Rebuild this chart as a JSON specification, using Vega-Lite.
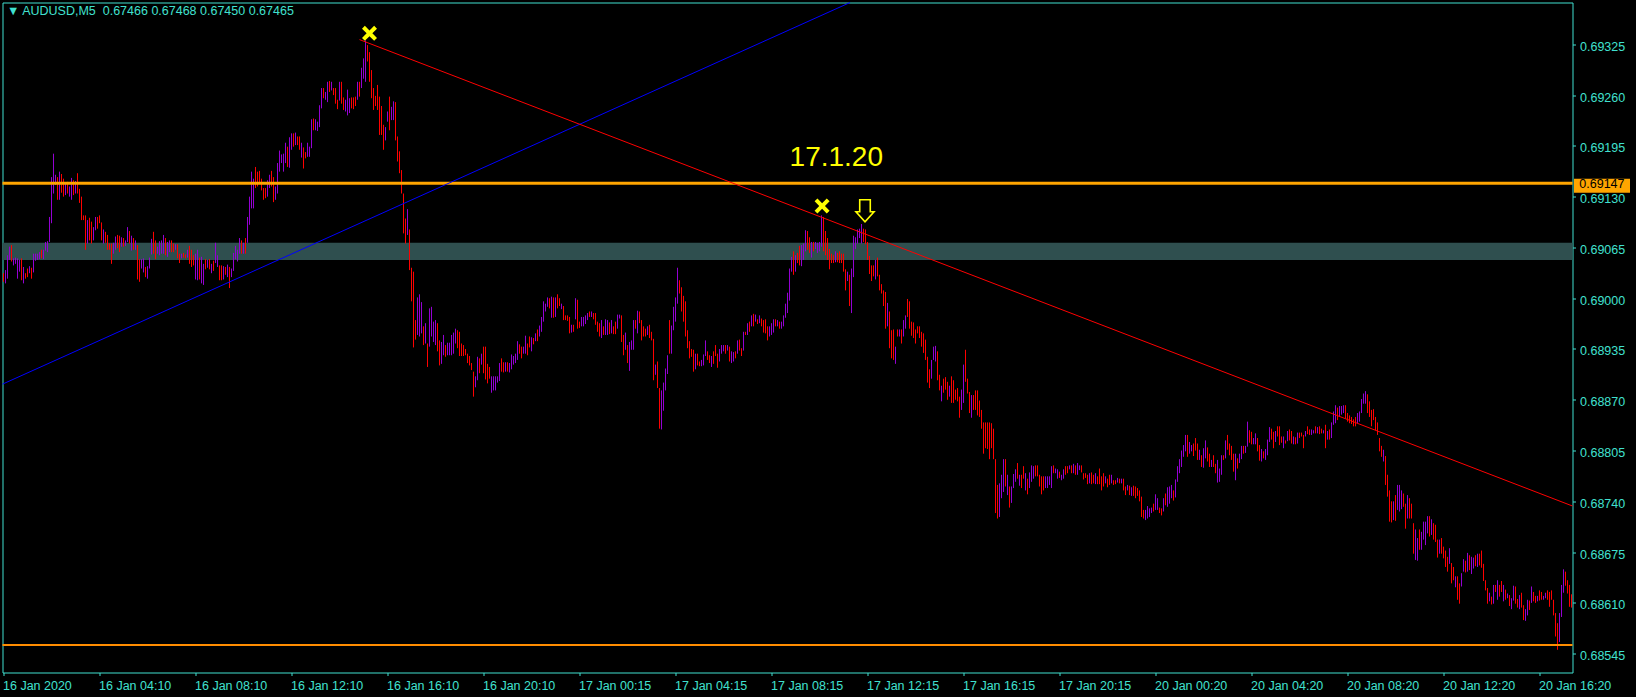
{
"$schema":"https://vega.github.io/schema/vega-lite/v6.json",
"width":1570,"height":670,
"autosize":{"type":"none"},
"padding":{"left":2.5,"top":2.5,"right":63.5,"bottom":24.5},
"background":"#000000",
"config":{"view":{"stroke":"#40E0D0","strokeWidth":1,"fill":"#000000"},"font":"Liberation Sans",
 "axis":{"labelColor":"#40E0D0","tickColor":"#40E0D0","labelFont":"Liberation Sans","labelFontSize":12.5,"domain":false,"grid":false,"tickSize":3,"labelOverlap":false,"labelFlush":false,"labelBound":false}},
"title":{"text":"▼ AUDUSD,M5\u00a0\u00a00.67466 0.67468 0.67450 0.67465","anchor":"start","frame":"group","orient":"top","offset":-14.5,"dy":12.5,"baseline":"alphabetic","dx":4.5,"color":"#40E0D0","font":"Liberation Sans","fontSize":12.5,"fontWeight":"normal"},
"datasets":{
"bars":[
{"i":0,"h":0.69032,"l":0.69021,"d":"dn"},{"i":1,"h":0.69036,"l":0.69019,"d":"up"},{"i":2,"h":0.69055,"l":0.69025,"d":"up"},{"i":3,"h":0.69066,"l":0.69049,"d":"up"},{"i":4,"h":0.69068,"l":0.69047,"d":"dn"},{"i":5,"h":0.69051,"l":0.69042,"d":"up"},{"i":6,"h":0.69052,"l":0.69044,"d":"up"},{"i":7,"h":0.69051,"l":0.69025,"d":"up"},{"i":8,"h":0.69049,"l":0.69034,"d":"up"},{"i":9,"h":0.69051,"l":0.69023,"d":"dn"},
{"i":10,"h":0.69040,"l":0.69019,"d":"up"},{"i":11,"h":0.69032,"l":0.69025,"d":"dn"},{"i":12,"h":0.69038,"l":0.69027,"d":"dn"},{"i":13,"h":0.69041,"l":0.69032,"d":"up"},{"i":14,"h":0.69039,"l":0.69025,"d":"dn"},{"i":15,"h":0.69057,"l":0.69033,"d":"up"},{"i":16,"h":0.69057,"l":0.69048,"d":"up"},{"i":17,"h":0.69057,"l":0.69049,"d":"up"},{"i":18,"h":0.69059,"l":0.69050,"d":"up"},{"i":19,"h":0.69062,"l":0.69051,"d":"dn"},
{"i":20,"h":0.69062,"l":0.69050,"d":"up"},{"i":21,"h":0.69072,"l":0.69061,"d":"up"},{"i":22,"h":0.69073,"l":0.69059,"d":"up"},{"i":23,"h":0.69104,"l":0.69072,"d":"up"},{"i":24,"h":0.69155,"l":0.69096,"d":"up"},{"i":25,"h":0.69185,"l":0.69134,"d":"up"},{"i":26,"h":0.69158,"l":0.69145,"d":"up"},{"i":27,"h":0.69155,"l":0.69126,"d":"dn"},{"i":28,"h":0.69162,"l":0.69126,"d":"up"},{"i":29,"h":0.69159,"l":0.69135,"d":"dn"},
{"i":30,"h":0.69153,"l":0.69130,"d":"dn"},{"i":31,"h":0.69147,"l":0.69132,"d":"up"},{"i":32,"h":0.69149,"l":0.69134,"d":"dn"},{"i":33,"h":0.69143,"l":0.69130,"d":"up"},{"i":34,"h":0.69154,"l":0.69126,"d":"up"},{"i":35,"h":0.69151,"l":0.69132,"d":"dn"},{"i":36,"h":0.69150,"l":0.69134,"d":"up"},{"i":37,"h":0.69160,"l":0.69134,"d":"dn"},{"i":38,"h":0.69140,"l":0.69122,"d":"dn"},{"i":39,"h":0.69130,"l":0.69100,"d":"dn"},
{"i":40,"h":0.69106,"l":0.69100,"d":"dn"},{"i":41,"h":0.69106,"l":0.69062,"d":"dn"},{"i":42,"h":0.69100,"l":0.69070,"d":"up"},{"i":43,"h":0.69103,"l":0.69074,"d":"dn"},{"i":44,"h":0.69098,"l":0.69070,"d":"dn"},{"i":45,"h":0.69091,"l":0.69074,"d":"up"},{"i":46,"h":0.69104,"l":0.69087,"d":"up"},{"i":47,"h":0.69104,"l":0.69089,"d":"dn"},{"i":48,"h":0.69106,"l":0.69096,"d":"dn"},{"i":49,"h":0.69097,"l":0.69074,"d":"dn"},
{"i":50,"h":0.69088,"l":0.69070,"d":"up"},{"i":51,"h":0.69085,"l":0.69071,"d":"dn"},{"i":52,"h":0.69081,"l":0.69062,"d":"dn"},{"i":53,"h":0.69070,"l":0.69062,"d":"dn"},{"i":54,"h":0.69070,"l":0.69044,"d":"dn"},{"i":55,"h":0.69071,"l":0.69057,"d":"up"},{"i":56,"h":0.69079,"l":0.69062,"d":"up"},{"i":57,"h":0.69081,"l":0.69064,"d":"dn"},{"i":58,"h":0.69080,"l":0.69059,"d":"dn"},{"i":59,"h":0.69078,"l":0.69066,"d":"up"},
{"i":60,"h":0.69077,"l":0.69066,"d":"dn"},{"i":61,"h":0.69074,"l":0.69067,"d":"up"},{"i":62,"h":0.69091,"l":0.69072,"d":"up"},{"i":63,"h":0.69086,"l":0.69070,"d":"dn"},{"i":64,"h":0.69080,"l":0.69061,"d":"up"},{"i":65,"h":0.69077,"l":0.69062,"d":"dn"},{"i":66,"h":0.69074,"l":0.69062,"d":"up"},{"i":67,"h":0.69068,"l":0.69024,"d":"dn"},{"i":68,"h":0.69050,"l":0.69021,"d":"dn"},{"i":69,"h":0.69050,"l":0.69038,"d":"up"},
{"i":70,"h":0.69051,"l":0.69033,"d":"up"},{"i":71,"h":0.69040,"l":0.69027,"d":"dn"},{"i":72,"h":0.69041,"l":0.69025,"d":"up"},{"i":73,"h":0.69052,"l":0.69038,"d":"up"},{"i":74,"h":0.69076,"l":0.69056,"d":"up"},{"i":75,"h":0.69085,"l":0.69057,"d":"dn"},{"i":76,"h":0.69074,"l":0.69050,"d":"dn"},{"i":77,"h":0.69066,"l":0.69057,"d":"up"},{"i":78,"h":0.69073,"l":0.69055,"d":"up"},{"i":79,"h":0.69074,"l":0.69057,"d":"up"},
{"i":80,"h":0.69081,"l":0.69057,"d":"up"},{"i":81,"h":0.69077,"l":0.69055,"d":"dn"},{"i":82,"h":0.69072,"l":0.69053,"d":"up"},{"i":83,"h":0.69074,"l":0.69059,"d":"up"},{"i":84,"h":0.69074,"l":0.69059,"d":"dn"},{"i":85,"h":0.69070,"l":0.69059,"d":"dn"},{"i":86,"h":0.69069,"l":0.69062,"d":"up"},{"i":87,"h":0.69069,"l":0.69051,"d":"dn"},{"i":88,"h":0.69057,"l":0.69045,"d":"dn"},{"i":89,"h":0.69057,"l":0.69051,"d":"up"},
{"i":90,"h":0.69058,"l":0.69052,"d":"dn"},{"i":91,"h":0.69056,"l":0.69051,"d":"dn"},{"i":92,"h":0.69062,"l":0.69052,"d":"up"},{"i":93,"h":0.69067,"l":0.69044,"d":"dn"},{"i":94,"h":0.69062,"l":0.69040,"d":"dn"},{"i":95,"h":0.69055,"l":0.69042,"d":"dn"},{"i":96,"h":0.69057,"l":0.69024,"d":"up"},{"i":97,"h":0.69062,"l":0.69023,"d":"up"},{"i":98,"h":0.69052,"l":0.69024,"d":"dn"},{"i":99,"h":0.69053,"l":0.69019,"d":"up"},
{"i":100,"h":0.69044,"l":0.69017,"d":"up"},{"i":101,"h":0.69050,"l":0.69037,"d":"dn"},{"i":102,"h":0.69049,"l":0.69039,"d":"up"},{"i":103,"h":0.69050,"l":0.69037,"d":"dn"},{"i":104,"h":0.69044,"l":0.69032,"d":"up"},{"i":105,"h":0.69048,"l":0.69035,"d":"dn"},{"i":106,"h":0.69071,"l":0.69045,"d":"up"},{"i":107,"h":0.69055,"l":0.69040,"d":"up"},{"i":108,"h":0.69042,"l":0.69023,"d":"dn"},{"i":109,"h":0.69042,"l":0.69023,"d":"dn"},
{"i":110,"h":0.69041,"l":0.69024,"d":"up"},{"i":111,"h":0.69040,"l":0.69030,"d":"dn"},{"i":112,"h":0.69043,"l":0.69027,"d":"up"},{"i":113,"h":0.69040,"l":0.69013,"d":"dn"},{"i":114,"h":0.69038,"l":0.69027,"d":"up"},{"i":115,"h":0.69058,"l":0.69035,"d":"up"},{"i":116,"h":0.69067,"l":0.69050,"d":"up"},{"i":117,"h":0.69062,"l":0.69047,"d":"up"},{"i":118,"h":0.69077,"l":0.69057,"d":"up"},{"i":119,"h":0.69074,"l":0.69057,"d":"dn"},
{"i":120,"h":0.69071,"l":0.69057,"d":"up"},{"i":121,"h":0.69077,"l":0.69057,"d":"dn"},{"i":122,"h":0.69104,"l":0.69071,"d":"up"},{"i":123,"h":0.69130,"l":0.69094,"d":"up"},{"i":124,"h":0.69162,"l":0.69115,"d":"up"},{"i":125,"h":0.69153,"l":0.69115,"d":"up"},{"i":126,"h":0.69168,"l":0.69141,"d":"dn"},{"i":127,"h":0.69162,"l":0.69143,"d":"dn"},{"i":128,"h":0.69163,"l":0.69147,"d":"dn"},{"i":129,"h":0.69153,"l":0.69138,"d":"dn"},
{"i":130,"h":0.69141,"l":0.69126,"d":"dn"},{"i":131,"h":0.69141,"l":0.69128,"d":"dn"},{"i":132,"h":0.69151,"l":0.69130,"d":"up"},{"i":133,"h":0.69158,"l":0.69141,"d":"up"},{"i":134,"h":0.69163,"l":0.69143,"d":"dn"},{"i":135,"h":0.69155,"l":0.69123,"d":"dn"},{"i":136,"h":0.69143,"l":0.69126,"d":"up"},{"i":137,"h":0.69173,"l":0.69134,"d":"up"},{"i":138,"h":0.69189,"l":0.69162,"d":"up"},{"i":139,"h":0.69184,"l":0.69173,"d":"up"},
{"i":140,"h":0.69185,"l":0.69162,"d":"up"},{"i":141,"h":0.69199,"l":0.69173,"d":"up"},{"i":142,"h":0.69194,"l":0.69168,"d":"dn"},{"i":143,"h":0.69206,"l":0.69167,"d":"up"},{"i":144,"h":0.69211,"l":0.69190,"d":"up"},{"i":145,"h":0.69211,"l":0.69194,"d":"dn"},{"i":146,"h":0.69212,"l":0.69196,"d":"up"},{"i":147,"h":0.69207,"l":0.69196,"d":"dn"},{"i":148,"h":0.69207,"l":0.69190,"d":"dn"},{"i":149,"h":0.69199,"l":0.69180,"d":"up"},
{"i":150,"h":0.69193,"l":0.69166,"d":"dn"},{"i":151,"h":0.69187,"l":0.69179,"d":"dn"},{"i":152,"h":0.69199,"l":0.69181,"d":"up"},{"i":153,"h":0.69194,"l":0.69181,"d":"up"},{"i":154,"h":0.69229,"l":0.69192,"d":"up"},{"i":155,"h":0.69230,"l":0.69215,"d":"dn"},{"i":156,"h":0.69229,"l":0.69215,"d":"up"},{"i":157,"h":0.69226,"l":0.69214,"d":"up"},{"i":158,"h":0.69247,"l":0.69219,"d":"up"},{"i":159,"h":0.69269,"l":0.69243,"d":"up"},
{"i":160,"h":0.69269,"l":0.69256,"d":"dn"},{"i":161,"h":0.69264,"l":0.69254,"d":"up"},{"i":162,"h":0.69277,"l":0.69251,"d":"up"},{"i":163,"h":0.69278,"l":0.69264,"d":"dn"},{"i":164,"h":0.69277,"l":0.69266,"d":"up"},{"i":165,"h":0.69269,"l":0.69260,"d":"dn"},{"i":166,"h":0.69269,"l":0.69249,"d":"dn"},{"i":167,"h":0.69254,"l":0.69242,"d":"dn"},{"i":168,"h":0.69277,"l":0.69253,"d":"up"},{"i":169,"h":0.69277,"l":0.69249,"d":"dn"},
{"i":170,"h":0.69257,"l":0.69241,"d":"dn"},{"i":171,"h":0.69254,"l":0.69239,"d":"up"},{"i":172,"h":0.69267,"l":0.69234,"d":"up"},{"i":173,"h":0.69256,"l":0.69237,"d":"up"},{"i":174,"h":0.69257,"l":0.69243,"d":"dn"},{"i":175,"h":0.69257,"l":0.69242,"d":"dn"},{"i":176,"h":0.69258,"l":0.69246,"d":"dn"},{"i":177,"h":0.69277,"l":0.69254,"d":"up"},{"i":178,"h":0.69277,"l":0.69258,"d":"dn"},{"i":179,"h":0.69295,"l":0.69269,"d":"up"},
{"i":180,"h":0.69307,"l":0.69281,"d":"up"},{"i":181,"h":0.69330,"l":0.69277,"d":"up"},{"i":182,"h":0.69324,"l":0.69303,"d":"dn"},{"i":183,"h":0.69315,"l":0.69277,"d":"dn"},{"i":184,"h":0.69292,"l":0.69256,"d":"dn"},{"i":185,"h":0.69269,"l":0.69241,"d":"dn"},{"i":186,"h":0.69259,"l":0.69246,"d":"dn"},{"i":187,"h":0.69273,"l":0.69241,"d":"dn"},{"i":188,"h":0.69258,"l":0.69209,"d":"dn"},{"i":189,"h":0.69246,"l":0.69209,"d":"dn"},
{"i":190,"h":0.69222,"l":0.69190,"d":"dn"},{"i":191,"h":0.69219,"l":0.69202,"d":"up"},{"i":192,"h":0.69239,"l":0.69226,"d":"up"},{"i":193,"h":0.69258,"l":0.69215,"d":"dn"},{"i":194,"h":0.69245,"l":0.69228,"d":"up"},{"i":195,"h":0.69252,"l":0.69228,"d":"up"},{"i":196,"h":0.69251,"l":0.69202,"d":"dn"},{"i":197,"h":0.69207,"l":0.69175,"d":"dn"},{"i":198,"h":0.69188,"l":0.69160,"d":"dn"},{"i":199,"h":0.69164,"l":0.69134,"d":"dn"},
{"i":200,"h":0.69134,"l":0.69083,"d":"dn"},{"i":201,"h":0.69102,"l":0.69070,"d":"dn"},{"i":202,"h":0.69114,"l":0.69081,"d":"up"},{"i":203,"h":0.69088,"l":0.69036,"d":"dn"},{"i":204,"h":0.69039,"l":0.68996,"d":"dn"},{"i":205,"h":0.69034,"l":0.68937,"d":"dn"},{"i":206,"h":0.68972,"l":0.68947,"d":"dn"},{"i":207,"h":0.69001,"l":0.68953,"d":"up"},{"i":208,"h":0.69005,"l":0.68951,"d":"up"},{"i":209,"h":0.68995,"l":0.68955,"d":"up"},
{"i":210,"h":0.68964,"l":0.68940,"d":"dn"},{"i":211,"h":0.68968,"l":0.68942,"d":"up"},{"i":212,"h":0.68942,"l":0.68912,"d":"dn"},{"i":213,"h":0.68987,"l":0.68938,"d":"up"},{"i":214,"h":0.68989,"l":0.68951,"d":"up"},{"i":215,"h":0.68970,"l":0.68944,"d":"up"},{"i":216,"h":0.68972,"l":0.68940,"d":"up"},{"i":217,"h":0.68968,"l":0.68932,"d":"dn"},{"i":218,"h":0.68946,"l":0.68914,"d":"dn"},{"i":219,"h":0.68944,"l":0.68916,"d":"up"},
{"i":220,"h":0.68953,"l":0.68927,"d":"up"},{"i":221,"h":0.68940,"l":0.68925,"d":"dn"},{"i":222,"h":0.68943,"l":0.68927,"d":"up"},{"i":223,"h":0.68943,"l":0.68927,"d":"up"},{"i":224,"h":0.68953,"l":0.68927,"d":"up"},{"i":225,"h":0.68956,"l":0.68929,"d":"up"},{"i":226,"h":0.68961,"l":0.68942,"d":"up"},{"i":227,"h":0.68959,"l":0.68936,"d":"dn"},{"i":228,"h":0.68957,"l":0.68926,"d":"dn"},{"i":229,"h":0.68942,"l":0.68926,"d":"dn"},
{"i":230,"h":0.68940,"l":0.68926,"d":"dn"},{"i":231,"h":0.68935,"l":0.68927,"d":"dn"},{"i":232,"h":0.68929,"l":0.68917,"d":"dn"},{"i":233,"h":0.68926,"l":0.68914,"d":"dn"},{"i":234,"h":0.68917,"l":0.68908,"d":"dn"},{"i":235,"h":0.68906,"l":0.68874,"d":"dn"},{"i":236,"h":0.68900,"l":0.68886,"d":"up"},{"i":237,"h":0.68925,"l":0.68895,"d":"up"},{"i":238,"h":0.68923,"l":0.68904,"d":"dn"},{"i":239,"h":0.68929,"l":0.68915,"d":"up"},
{"i":240,"h":0.68938,"l":0.68904,"d":"dn"},{"i":241,"h":0.68938,"l":0.68896,"d":"dn"},{"i":242,"h":0.68916,"l":0.68891,"d":"dn"},{"i":243,"h":0.68912,"l":0.68897,"d":"dn"},{"i":244,"h":0.68900,"l":0.68879,"d":"up"},{"i":245,"h":0.68900,"l":0.68882,"d":"up"},{"i":246,"h":0.68900,"l":0.68882,"d":"up"},{"i":247,"h":0.68900,"l":0.68892,"d":"up"},{"i":248,"h":0.68917,"l":0.68894,"d":"up"},{"i":249,"h":0.68923,"l":0.68906,"d":"dn"},
{"i":250,"h":0.68918,"l":0.68905,"d":"dn"},{"i":251,"h":0.68918,"l":0.68906,"d":"up"},{"i":252,"h":0.68918,"l":0.68906,"d":"dn"},{"i":253,"h":0.68917,"l":0.68905,"d":"up"},{"i":254,"h":0.68928,"l":0.68909,"d":"up"},{"i":255,"h":0.68926,"l":0.68915,"d":"up"},{"i":256,"h":0.68929,"l":0.68917,"d":"up"},{"i":257,"h":0.68945,"l":0.68921,"d":"up"},{"i":258,"h":0.68941,"l":0.68929,"d":"dn"},{"i":259,"h":0.68938,"l":0.68923,"d":"dn"},
{"i":260,"h":0.68938,"l":0.68929,"d":"up"},{"i":261,"h":0.68952,"l":0.68929,"d":"up"},{"i":262,"h":0.68942,"l":0.68927,"d":"dn"},{"i":263,"h":0.68951,"l":0.68937,"d":"dn"},{"i":264,"h":0.68950,"l":0.68932,"d":"up"},{"i":265,"h":0.68949,"l":0.68941,"d":"dn"},{"i":266,"h":0.68955,"l":0.68945,"d":"up"},{"i":267,"h":0.68960,"l":0.68945,"d":"dn"},{"i":268,"h":0.68965,"l":0.68951,"d":"up"},{"i":269,"h":0.68976,"l":0.68957,"d":"up"},
{"i":270,"h":0.68996,"l":0.68970,"d":"up"},{"i":271,"h":0.68993,"l":0.68983,"d":"up"},{"i":272,"h":0.69001,"l":0.68989,"d":"up"},{"i":273,"h":0.69000,"l":0.68987,"d":"dn"},{"i":274,"h":0.69002,"l":0.68975,"d":"up"},{"i":275,"h":0.69001,"l":0.68975,"d":"dn"},{"i":276,"h":0.69001,"l":0.68976,"d":"up"},{"i":277,"h":0.69005,"l":0.68987,"d":"dn"},{"i":278,"h":0.69000,"l":0.68990,"d":"dn"},{"i":279,"h":0.68993,"l":0.68986,"d":"up"},
{"i":280,"h":0.68990,"l":0.68972,"d":"dn"},{"i":281,"h":0.68978,"l":0.68972,"d":"dn"},{"i":282,"h":0.68978,"l":0.68971,"d":"dn"},{"i":283,"h":0.68976,"l":0.68955,"d":"dn"},{"i":284,"h":0.68966,"l":0.68956,"d":"up"},{"i":285,"h":0.68966,"l":0.68957,"d":"dn"},{"i":286,"h":0.69000,"l":0.68973,"d":"up"},{"i":287,"h":0.68998,"l":0.68961,"d":"dn"},{"i":288,"h":0.68970,"l":0.68962,"d":"dn"},{"i":289,"h":0.68976,"l":0.68964,"d":"up"},
{"i":290,"h":0.68976,"l":0.68964,"d":"up"},{"i":291,"h":0.68978,"l":0.68967,"d":"up"},{"i":292,"h":0.68981,"l":0.68972,"d":"up"},{"i":293,"h":0.68983,"l":0.68976,"d":"dn"},{"i":294,"h":0.68983,"l":0.68976,"d":"up"},{"i":295,"h":0.68981,"l":0.68973,"d":"dn"},{"i":296,"h":0.68981,"l":0.68966,"d":"dn"},{"i":297,"h":0.68970,"l":0.68957,"d":"dn"},{"i":298,"h":0.68968,"l":0.68951,"d":"dn"},{"i":299,"h":0.68972,"l":0.68949,"d":"up"},
{"i":300,"h":0.68964,"l":0.68953,"d":"dn"},{"i":301,"h":0.68973,"l":0.68953,"d":"up"},{"i":302,"h":0.68972,"l":0.68953,"d":"up"},{"i":303,"h":0.68969,"l":0.68954,"d":"dn"},{"i":304,"h":0.68972,"l":0.68955,"d":"up"},{"i":305,"h":0.68964,"l":0.68954,"d":"dn"},{"i":306,"h":0.68970,"l":0.68954,"d":"dn"},{"i":307,"h":0.68979,"l":0.68961,"d":"up"},{"i":308,"h":0.68979,"l":0.68974,"d":"up"},{"i":309,"h":0.68978,"l":0.68944,"d":"dn"},
{"i":310,"h":0.68953,"l":0.68927,"d":"dn"},{"i":311,"h":0.68956,"l":0.68934,"d":"up"},{"i":312,"h":0.68940,"l":0.68917,"d":"dn"},{"i":313,"h":0.68944,"l":0.68907,"d":"up"},{"i":314,"h":0.68946,"l":0.68934,"d":"up"},{"i":315,"h":0.68972,"l":0.68934,"d":"up"},{"i":316,"h":0.68972,"l":0.68961,"d":"dn"},{"i":317,"h":0.68984,"l":0.68955,"d":"up"},{"i":318,"h":0.68983,"l":0.68968,"d":"dn"},{"i":319,"h":0.68972,"l":0.68946,"d":"dn"},
{"i":320,"h":0.68964,"l":0.68951,"d":"dn"},{"i":321,"h":0.68961,"l":0.68951,"d":"dn"},{"i":322,"h":0.68964,"l":0.68953,"d":"up"},{"i":323,"h":0.68966,"l":0.68949,"d":"dn"},{"i":324,"h":0.68957,"l":0.68946,"d":"dn"},{"i":325,"h":0.68948,"l":0.68895,"d":"dn"},{"i":326,"h":0.68915,"l":0.68902,"d":"up"},{"i":327,"h":0.68919,"l":0.68885,"d":"dn"},{"i":328,"h":0.68885,"l":0.68833,"d":"dn"},{"i":329,"h":0.68882,"l":0.68832,"d":"up"},
{"i":330,"h":0.68892,"l":0.68856,"d":"up"},{"i":331,"h":0.68910,"l":0.68882,"d":"up"},{"i":332,"h":0.68927,"l":0.68903,"d":"up"},{"i":333,"h":0.68972,"l":0.68929,"d":"dn"},{"i":334,"h":0.68965,"l":0.68929,"d":"up"},{"i":335,"h":0.68989,"l":0.68959,"d":"up"},{"i":336,"h":0.69001,"l":0.68970,"d":"up"},{"i":337,"h":0.69039,"l":0.68993,"d":"up"},{"i":338,"h":0.69023,"l":0.69006,"d":"dn"},{"i":339,"h":0.69014,"l":0.68983,"d":"dn"},
{"i":340,"h":0.69003,"l":0.68970,"d":"dn"},{"i":341,"h":0.68996,"l":0.68951,"d":"dn"},{"i":342,"h":0.68959,"l":0.68936,"d":"dn"},{"i":343,"h":0.68945,"l":0.68923,"d":"dn"},{"i":344,"h":0.68935,"l":0.68925,"d":"dn"},{"i":345,"h":0.68934,"l":0.68906,"d":"dn"},{"i":346,"h":0.68929,"l":0.68909,"d":"up"},{"i":347,"h":0.68929,"l":0.68914,"d":"dn"},{"i":348,"h":0.68919,"l":0.68913,"d":"dn"},{"i":349,"h":0.68921,"l":0.68913,"d":"up"},
{"i":350,"h":0.68928,"l":0.68914,"d":"up"},{"i":351,"h":0.68946,"l":0.68926,"d":"up"},{"i":352,"h":0.68932,"l":0.68921,"d":"dn"},{"i":353,"h":0.68927,"l":0.68917,"d":"dn"},{"i":354,"h":0.68926,"l":0.68912,"d":"up"},{"i":355,"h":0.68932,"l":0.68916,"d":"dn"},{"i":356,"h":0.68940,"l":0.68926,"d":"dn"},{"i":357,"h":0.68929,"l":0.68911,"d":"dn"},{"i":358,"h":0.68935,"l":0.68919,"d":"up"},{"i":359,"h":0.68940,"l":0.68929,"d":"up"},
{"i":360,"h":0.68940,"l":0.68932,"d":"up"},{"i":361,"h":0.68940,"l":0.68929,"d":"dn"},{"i":362,"h":0.68940,"l":0.68933,"d":"up"},{"i":363,"h":0.68938,"l":0.68919,"d":"dn"},{"i":364,"h":0.68932,"l":0.68917,"d":"up"},{"i":365,"h":0.68931,"l":0.68919,"d":"up"},{"i":366,"h":0.68932,"l":0.68923,"d":"dn"},{"i":367,"h":0.68946,"l":0.68929,"d":"up"},{"i":368,"h":0.68947,"l":0.68933,"d":"dn"},{"i":369,"h":0.68936,"l":0.68926,"d":"dn"},
{"i":370,"h":0.68957,"l":0.68933,"d":"up"},{"i":371,"h":0.68957,"l":0.68953,"d":"dn"},{"i":372,"h":0.68968,"l":0.68953,"d":"up"},{"i":373,"h":0.68970,"l":0.68957,"d":"dn"},{"i":374,"h":0.68978,"l":0.68964,"d":"up"},{"i":375,"h":0.68980,"l":0.68964,"d":"dn"},{"i":376,"h":0.68979,"l":0.68970,"d":"up"},{"i":377,"h":0.68973,"l":0.68967,"d":"dn"},{"i":378,"h":0.68978,"l":0.68968,"d":"up"},{"i":379,"h":0.68974,"l":0.68964,"d":"dn"},
{"i":380,"h":0.68972,"l":0.68956,"d":"dn"},{"i":381,"h":0.68973,"l":0.68955,"d":"dn"},{"i":382,"h":0.68964,"l":0.68946,"d":"dn"},{"i":383,"h":0.68964,"l":0.68951,"d":"up"},{"i":384,"h":0.68968,"l":0.68953,"d":"up"},{"i":385,"h":0.68973,"l":0.68956,"d":"up"},{"i":386,"h":0.68973,"l":0.68964,"d":"dn"},{"i":387,"h":0.68972,"l":0.68964,"d":"up"},{"i":388,"h":0.68970,"l":0.68961,"d":"dn"},{"i":389,"h":0.68970,"l":0.68961,"d":"up"},
{"i":390,"h":0.68978,"l":0.68964,"d":"up"},{"i":391,"h":0.68993,"l":0.68975,"d":"up"},{"i":392,"h":0.69007,"l":0.68981,"d":"up"},{"i":393,"h":0.69038,"l":0.68997,"d":"up"},{"i":394,"h":0.69053,"l":0.69034,"d":"up"},{"i":395,"h":0.69060,"l":0.69030,"d":"dn"},{"i":396,"h":0.69055,"l":0.69034,"d":"up"},{"i":397,"h":0.69058,"l":0.69045,"d":"dn"},{"i":398,"h":0.69067,"l":0.69042,"d":"dn"},{"i":399,"h":0.69068,"l":0.69041,"d":"up"},
{"i":400,"h":0.69070,"l":0.69049,"d":"up"},{"i":401,"h":0.69087,"l":0.69060,"d":"up"},{"i":402,"h":0.69086,"l":0.69062,"d":"dn"},{"i":403,"h":0.69078,"l":0.69058,"d":"dn"},{"i":404,"h":0.69072,"l":0.69052,"d":"up"},{"i":405,"h":0.69072,"l":0.69060,"d":"dn"},{"i":406,"h":0.69072,"l":0.69063,"d":"up"},{"i":407,"h":0.69071,"l":0.69058,"d":"up"},{"i":408,"h":0.69072,"l":0.69060,"d":"up"},{"i":409,"h":0.69106,"l":0.69066,"d":"up"},
{"i":410,"h":0.69104,"l":0.69060,"d":"dn"},{"i":411,"h":0.69086,"l":0.69055,"d":"dn"},{"i":412,"h":0.69077,"l":0.69049,"d":"dn"},{"i":413,"h":0.69063,"l":0.69037,"d":"dn"},{"i":414,"h":0.69057,"l":0.69045,"d":"dn"},{"i":415,"h":0.69055,"l":0.69045,"d":"dn"},{"i":416,"h":0.69060,"l":0.69046,"d":"up"},{"i":417,"h":0.69058,"l":0.69046,"d":"dn"},{"i":418,"h":0.69060,"l":0.69045,"d":"dn"},{"i":419,"h":0.69057,"l":0.69045,"d":"dn"},
{"i":420,"h":0.69057,"l":0.69034,"d":"dn"},{"i":421,"h":0.69037,"l":0.69010,"d":"dn"},{"i":422,"h":0.69034,"l":0.69022,"d":"up"},{"i":423,"h":0.69030,"l":0.68990,"d":"dn"},{"i":424,"h":0.69038,"l":0.68981,"d":"up"},{"i":425,"h":0.69080,"l":0.69027,"d":"up"},{"i":426,"h":0.69078,"l":0.69063,"d":"up"},{"i":427,"h":0.69088,"l":0.69070,"d":"up"},{"i":428,"h":0.69089,"l":0.69077,"d":"up"},{"i":429,"h":0.69095,"l":0.69070,"d":"up"},
{"i":430,"h":0.69089,"l":0.69072,"d":"dn"},{"i":431,"h":0.69088,"l":0.69069,"d":"dn"},{"i":432,"h":0.69072,"l":0.69049,"d":"dn"},{"i":433,"h":0.69054,"l":0.69031,"d":"dn"},{"i":434,"h":0.69042,"l":0.69022,"d":"dn"},{"i":435,"h":0.69042,"l":0.69028,"d":"dn"},{"i":436,"h":0.69049,"l":0.69024,"d":"up"},{"i":437,"h":0.69052,"l":0.69028,"d":"dn"},{"i":438,"h":0.69030,"l":0.69010,"d":"dn"},{"i":439,"h":0.69018,"l":0.69006,"d":"dn"},
{"i":440,"h":0.69010,"l":0.68990,"d":"dn"},{"i":441,"h":0.69008,"l":0.68961,"d":"dn"},{"i":442,"h":0.68994,"l":0.68964,"d":"up"},{"i":443,"h":0.68983,"l":0.68936,"d":"dn"},{"i":444,"h":0.68959,"l":0.68923,"d":"dn"},{"i":445,"h":0.68960,"l":0.68921,"d":"dn"},{"i":446,"h":0.68938,"l":0.68916,"d":"up"},{"i":447,"h":0.68960,"l":0.68951,"d":"dn"},{"i":448,"h":0.68960,"l":0.68951,"d":"up"},{"i":449,"h":0.68960,"l":0.68942,"d":"dn"},
{"i":450,"h":0.68972,"l":0.68951,"d":"up"},{"i":451,"h":0.68978,"l":0.68961,"d":"up"},{"i":452,"h":0.68999,"l":0.68976,"d":"dn"},{"i":453,"h":0.68996,"l":0.68961,"d":"dn"},{"i":454,"h":0.68970,"l":0.68952,"d":"dn"},{"i":455,"h":0.68969,"l":0.68949,"d":"dn"},{"i":456,"h":0.68960,"l":0.68942,"d":"dn"},{"i":457,"h":0.68964,"l":0.68955,"d":"dn"},{"i":458,"h":0.68964,"l":0.68949,"d":"dn"},{"i":459,"h":0.68957,"l":0.68938,"d":"dn"},
{"i":460,"h":0.68955,"l":0.68930,"d":"dn"},{"i":461,"h":0.68947,"l":0.68921,"d":"dn"},{"i":462,"h":0.68925,"l":0.68892,"d":"dn"},{"i":463,"h":0.68909,"l":0.68885,"d":"dn"},{"i":464,"h":0.68921,"l":0.68897,"d":"up"},{"i":465,"h":0.68938,"l":0.68921,"d":"up"},{"i":466,"h":0.68939,"l":0.68919,"d":"up"},{"i":467,"h":0.68932,"l":0.68895,"d":"dn"},{"i":468,"h":0.68902,"l":0.68882,"d":"dn"},{"i":469,"h":0.68888,"l":0.68868,"d":"up"},
{"i":470,"h":0.68897,"l":0.68879,"d":"dn"},{"i":471,"h":0.68899,"l":0.68883,"d":"dn"},{"i":472,"h":0.68893,"l":0.68870,"d":"dn"},{"i":473,"h":0.68888,"l":0.68874,"d":"up"},{"i":474,"h":0.68900,"l":0.68866,"d":"dn"},{"i":475,"h":0.68895,"l":0.68866,"d":"dn"},{"i":476,"h":0.68883,"l":0.68870,"d":"dn"},{"i":477,"h":0.68885,"l":0.68868,"d":"dn"},{"i":478,"h":0.68874,"l":0.68847,"d":"dn"},{"i":479,"h":0.68883,"l":0.68857,"d":"up"},
{"i":480,"h":0.68915,"l":0.68866,"d":"up"},{"i":481,"h":0.68934,"l":0.68893,"d":"dn"},{"i":482,"h":0.68897,"l":0.68878,"d":"dn"},{"i":483,"h":0.68880,"l":0.68853,"d":"dn"},{"i":484,"h":0.68876,"l":0.68847,"d":"up"},{"i":485,"h":0.68876,"l":0.68857,"d":"dn"},{"i":486,"h":0.68882,"l":0.68857,"d":"dn"},{"i":487,"h":0.68882,"l":0.68850,"d":"dn"},{"i":488,"h":0.68869,"l":0.68848,"d":"dn"},{"i":489,"h":0.68857,"l":0.68833,"d":"dn"},
{"i":490,"h":0.68841,"l":0.68801,"d":"dn"},{"i":491,"h":0.68841,"l":0.68808,"d":"dn"},{"i":492,"h":0.68841,"l":0.68807,"d":"dn"},{"i":493,"h":0.68841,"l":0.68794,"d":"dn"},{"i":494,"h":0.68840,"l":0.68808,"d":"dn"},{"i":495,"h":0.68833,"l":0.68794,"d":"dn"},{"i":496,"h":0.68794,"l":0.68725,"d":"dn"},{"i":497,"h":0.68761,"l":0.68718,"d":"dn"},{"i":498,"h":0.68763,"l":0.68720,"d":"up"},{"i":499,"h":0.68774,"l":0.68744,"d":"up"},
{"i":500,"h":0.68794,"l":0.68752,"d":"up"},{"i":501,"h":0.68794,"l":0.68759,"d":"dn"},{"i":502,"h":0.68774,"l":0.68748,"d":"up"},{"i":503,"h":0.68759,"l":0.68732,"d":"dn"},{"i":504,"h":0.68759,"l":0.68738,"d":"up"},{"i":505,"h":0.68775,"l":0.68757,"d":"up"},{"i":506,"h":0.68781,"l":0.68765,"d":"up"},{"i":507,"h":0.68789,"l":0.68769,"d":"dn"},{"i":508,"h":0.68774,"l":0.68760,"d":"up"},{"i":509,"h":0.68774,"l":0.68757,"d":"dn"},
{"i":510,"h":0.68785,"l":0.68769,"d":"dn"},{"i":511,"h":0.68776,"l":0.68754,"d":"up"},{"i":512,"h":0.68769,"l":0.68749,"d":"dn"},{"i":513,"h":0.68777,"l":0.68757,"d":"up"},{"i":514,"h":0.68786,"l":0.68765,"d":"up"},{"i":515,"h":0.68785,"l":0.68769,"d":"up"},{"i":516,"h":0.68786,"l":0.68772,"d":"dn"},{"i":517,"h":0.68786,"l":0.68772,"d":"dn"},{"i":518,"h":0.68774,"l":0.68759,"d":"dn"},{"i":519,"h":0.68772,"l":0.68749,"d":"dn"},
{"i":520,"h":0.68772,"l":0.68754,"d":"dn"},{"i":521,"h":0.68772,"l":0.68757,"d":"up"},{"i":522,"h":0.68772,"l":0.68757,"d":"up"},{"i":523,"h":0.68772,"l":0.68761,"d":"up"},{"i":524,"h":0.68785,"l":0.68757,"d":"up"},{"i":525,"h":0.68786,"l":0.68776,"d":"dn"},{"i":526,"h":0.68782,"l":0.68776,"d":"up"},{"i":527,"h":0.68781,"l":0.68769,"d":"up"},{"i":528,"h":0.68778,"l":0.68770,"d":"dn"},{"i":529,"h":0.68774,"l":0.68767,"d":"up"},
{"i":530,"h":0.68781,"l":0.68769,"d":"up"},{"i":531,"h":0.68785,"l":0.68774,"d":"dn"},{"i":532,"h":0.68785,"l":0.68776,"d":"dn"},{"i":533,"h":0.68786,"l":0.68781,"d":"up"},{"i":534,"h":0.68786,"l":0.68776,"d":"dn"},{"i":535,"h":0.68788,"l":0.68776,"d":"up"},{"i":536,"h":0.68786,"l":0.68774,"d":"dn"},{"i":537,"h":0.68789,"l":0.68774,"d":"up"},{"i":538,"h":0.68786,"l":0.68780,"d":"up"},{"i":539,"h":0.68786,"l":0.68777,"d":"dn"},
{"i":540,"h":0.68776,"l":0.68768,"d":"dn"},{"i":541,"h":0.68776,"l":0.68770,"d":"dn"},{"i":542,"h":0.68774,"l":0.68762,"d":"dn"},{"i":543,"h":0.68776,"l":0.68763,"d":"up"},{"i":544,"h":0.68777,"l":0.68762,"d":"dn"},{"i":545,"h":0.68774,"l":0.68763,"d":"dn"},{"i":546,"h":0.68776,"l":0.68762,"d":"up"},{"i":547,"h":0.68772,"l":0.68762,"d":"dn"},{"i":548,"h":0.68782,"l":0.68762,"d":"dn"},{"i":549,"h":0.68772,"l":0.68754,"d":"dn"},
{"i":550,"h":0.68776,"l":0.68759,"d":"dn"},{"i":551,"h":0.68772,"l":0.68763,"d":"up"},{"i":552,"h":0.68769,"l":0.68758,"d":"dn"},{"i":553,"h":0.68774,"l":0.68761,"d":"dn"},{"i":554,"h":0.68774,"l":0.68763,"d":"up"},{"i":555,"h":0.68767,"l":0.68761,"d":"dn"},{"i":556,"h":0.68767,"l":0.68762,"d":"dn"},{"i":557,"h":0.68770,"l":0.68764,"d":"up"},{"i":558,"h":0.68769,"l":0.68763,"d":"dn"},{"i":559,"h":0.68769,"l":0.68763,"d":"up"},
{"i":560,"h":0.68769,"l":0.68754,"d":"dn"},{"i":561,"h":0.68759,"l":0.68748,"d":"dn"},{"i":562,"h":0.68761,"l":0.68754,"d":"up"},{"i":563,"h":0.68760,"l":0.68748,"d":"dn"},{"i":564,"h":0.68758,"l":0.68747,"d":"up"},{"i":565,"h":0.68760,"l":0.68747,"d":"dn"},{"i":566,"h":0.68759,"l":0.68744,"d":"dn"},{"i":567,"h":0.68757,"l":0.68747,"d":"dn"},{"i":568,"h":0.68754,"l":0.68740,"d":"dn"},{"i":569,"h":0.68746,"l":0.68720,"d":"dn"},
{"i":570,"h":0.68729,"l":0.68718,"d":"dn"},{"i":571,"h":0.68729,"l":0.68716,"d":"up"},{"i":572,"h":0.68734,"l":0.68718,"d":"up"},{"i":573,"h":0.68731,"l":0.68720,"d":"up"},{"i":574,"h":0.68732,"l":0.68725,"d":"up"},{"i":575,"h":0.68737,"l":0.68727,"d":"dn"},{"i":576,"h":0.68749,"l":0.68729,"d":"up"},{"i":577,"h":0.68744,"l":0.68729,"d":"up"},{"i":578,"h":0.68732,"l":0.68725,"d":"dn"},{"i":579,"h":0.68731,"l":0.68722,"d":"dn"},
{"i":580,"h":0.68744,"l":0.68727,"d":"up"},{"i":581,"h":0.68750,"l":0.68735,"d":"dn"},{"i":582,"h":0.68758,"l":0.68733,"d":"up"},{"i":583,"h":0.68759,"l":0.68737,"d":"up"},{"i":584,"h":0.68761,"l":0.68744,"d":"up"},{"i":585,"h":0.68754,"l":0.68741,"d":"dn"},{"i":586,"h":0.68768,"l":0.68745,"d":"up"},{"i":587,"h":0.68785,"l":0.68765,"d":"up"},{"i":588,"h":0.68794,"l":0.68776,"d":"up"},{"i":589,"h":0.68805,"l":0.68784,"d":"up"},
{"i":590,"h":0.68812,"l":0.68797,"d":"up"},{"i":591,"h":0.68825,"l":0.68804,"d":"up"},{"i":592,"h":0.68825,"l":0.68797,"d":"dn"},{"i":593,"h":0.68816,"l":0.68801,"d":"up"},{"i":594,"h":0.68812,"l":0.68804,"d":"up"},{"i":595,"h":0.68814,"l":0.68798,"d":"dn"},{"i":596,"h":0.68821,"l":0.68805,"d":"dn"},{"i":597,"h":0.68814,"l":0.68793,"d":"dn"},{"i":598,"h":0.68806,"l":0.68793,"d":"up"},{"i":599,"h":0.68799,"l":0.68784,"d":"dn"},
{"i":600,"h":0.68808,"l":0.68783,"d":"up"},{"i":601,"h":0.68818,"l":0.68795,"d":"up"},{"i":602,"h":0.68809,"l":0.68791,"d":"dn"},{"i":603,"h":0.68801,"l":0.68784,"d":"dn"},{"i":604,"h":0.68793,"l":0.68784,"d":"up"},{"i":605,"h":0.68799,"l":0.68784,"d":"dn"},{"i":606,"h":0.68788,"l":0.68776,"d":"dn"},{"i":607,"h":0.68793,"l":0.68764,"d":"up"},{"i":608,"h":0.68782,"l":0.68765,"d":"up"},{"i":609,"h":0.68799,"l":0.68774,"d":"up"},
{"i":610,"h":0.68799,"l":0.68793,"d":"dn"},{"i":611,"h":0.68818,"l":0.68795,"d":"up"},{"i":612,"h":0.68825,"l":0.68806,"d":"dn"},{"i":613,"h":0.68814,"l":0.68799,"d":"dn"},{"i":614,"h":0.68811,"l":0.68793,"d":"dn"},{"i":615,"h":0.68801,"l":0.68778,"d":"dn"},{"i":616,"h":0.68801,"l":0.68767,"d":"up"},{"i":617,"h":0.68795,"l":0.68782,"d":"dn"},{"i":618,"h":0.68801,"l":0.68789,"d":"up"},{"i":619,"h":0.68811,"l":0.68794,"d":"up"},
{"i":620,"h":0.68811,"l":0.68801,"d":"dn"},{"i":621,"h":0.68811,"l":0.68802,"d":"up"},{"i":622,"h":0.68842,"l":0.68810,"d":"up"},{"i":623,"h":0.68831,"l":0.68815,"d":"dn"},{"i":624,"h":0.68829,"l":0.68813,"d":"dn"},{"i":625,"h":0.68821,"l":0.68813,"d":"up"},{"i":626,"h":0.68827,"l":0.68813,"d":"up"},{"i":627,"h":0.68821,"l":0.68804,"d":"dn"},{"i":628,"h":0.68812,"l":0.68792,"d":"dn"},{"i":629,"h":0.68807,"l":0.68791,"d":"up"},
{"i":630,"h":0.68804,"l":0.68795,"d":"dn"},{"i":631,"h":0.68807,"l":0.68793,"d":"up"},{"i":632,"h":0.68819,"l":0.68799,"d":"up"},{"i":633,"h":0.68835,"l":0.68816,"d":"up"},{"i":634,"h":0.68833,"l":0.68819,"d":"dn"},{"i":635,"h":0.68829,"l":0.68808,"d":"dn"},{"i":636,"h":0.68830,"l":0.68816,"d":"up"},{"i":637,"h":0.68836,"l":0.68823,"d":"dn"},{"i":638,"h":0.68836,"l":0.68812,"d":"dn"},{"i":639,"h":0.68823,"l":0.68815,"d":"dn"},
{"i":640,"h":0.68823,"l":0.68808,"d":"up"},{"i":641,"h":0.68818,"l":0.68814,"d":"dn"},{"i":642,"h":0.68830,"l":0.68817,"d":"up"},{"i":643,"h":0.68832,"l":0.68818,"d":"dn"},{"i":644,"h":0.68830,"l":0.68814,"d":"dn"},{"i":645,"h":0.68823,"l":0.68813,"d":"up"},{"i":646,"h":0.68822,"l":0.68813,"d":"dn"},{"i":647,"h":0.68828,"l":0.68814,"d":"up"},{"i":648,"h":0.68828,"l":0.68821,"d":"dn"},{"i":649,"h":0.68828,"l":0.68823,"d":"dn"},
{"i":650,"h":0.68825,"l":0.68808,"d":"dn"},{"i":651,"h":0.68830,"l":0.68823,"d":"up"},{"i":652,"h":0.68836,"l":0.68826,"d":"dn"},{"i":653,"h":0.68832,"l":0.68825,"d":"dn"},{"i":654,"h":0.68832,"l":0.68825,"d":"up"},{"i":655,"h":0.68831,"l":0.68827,"d":"up"},{"i":656,"h":0.68836,"l":0.68827,"d":"dn"},{"i":657,"h":0.68835,"l":0.68827,"d":"up"},{"i":658,"h":0.68836,"l":0.68826,"d":"dn"},{"i":659,"h":0.68833,"l":0.68827,"d":"dn"},
{"i":660,"h":0.68831,"l":0.68827,"d":"up"},{"i":661,"h":0.68838,"l":0.68808,"d":"dn"},{"i":662,"h":0.68830,"l":0.68819,"d":"up"},{"i":663,"h":0.68832,"l":0.68819,"d":"dn"},{"i":664,"h":0.68841,"l":0.68821,"d":"up"},{"i":665,"h":0.68855,"l":0.68838,"d":"up"},{"i":666,"h":0.68863,"l":0.68840,"d":"up"},{"i":667,"h":0.68860,"l":0.68844,"d":"dn"},{"i":668,"h":0.68862,"l":0.68848,"d":"up"},{"i":669,"h":0.68862,"l":0.68851,"d":"up"},
{"i":670,"h":0.68863,"l":0.68853,"d":"up"},{"i":671,"h":0.68863,"l":0.68846,"d":"dn"},{"i":672,"h":0.68853,"l":0.68842,"d":"dn"},{"i":673,"h":0.68850,"l":0.68840,"d":"dn"},{"i":674,"h":0.68848,"l":0.68839,"d":"dn"},{"i":675,"h":0.68845,"l":0.68836,"d":"dn"},{"i":676,"h":0.68848,"l":0.68836,"d":"dn"},{"i":677,"h":0.68853,"l":0.68840,"d":"up"},{"i":678,"h":0.68855,"l":0.68842,"d":"up"},{"i":679,"h":0.68871,"l":0.68853,"d":"up"},
{"i":680,"h":0.68878,"l":0.68865,"d":"up"},{"i":681,"h":0.68881,"l":0.68865,"d":"up"},{"i":682,"h":0.68877,"l":0.68853,"d":"dn"},{"i":683,"h":0.68868,"l":0.68848,"d":"dn"},{"i":684,"h":0.68857,"l":0.68836,"d":"dn"},{"i":685,"h":0.68858,"l":0.68844,"d":"dn"},{"i":686,"h":0.68848,"l":0.68831,"d":"dn"},{"i":687,"h":0.68841,"l":0.68825,"d":"dn"},{"i":688,"h":0.68821,"l":0.68804,"d":"dn"},{"i":689,"h":0.68811,"l":0.68797,"d":"dn"},
{"i":690,"h":0.68806,"l":0.68791,"d":"up"},{"i":691,"h":0.68798,"l":0.68761,"d":"dn"},{"i":692,"h":0.68774,"l":0.68746,"d":"dn"},{"i":693,"h":0.68754,"l":0.68714,"d":"dn"},{"i":694,"h":0.68740,"l":0.68713,"d":"dn"},{"i":695,"h":0.68740,"l":0.68716,"d":"up"},{"i":696,"h":0.68748,"l":0.68715,"d":"dn"},{"i":697,"h":0.68761,"l":0.68729,"d":"up"},{"i":698,"h":0.68761,"l":0.68727,"d":"up"},{"i":699,"h":0.68754,"l":0.68730,"d":"up"},
{"i":700,"h":0.68750,"l":0.68733,"d":"dn"},{"i":701,"h":0.68737,"l":0.68705,"d":"dn"},{"i":702,"h":0.68748,"l":0.68718,"d":"up"},{"i":703,"h":0.68744,"l":0.68718,"d":"dn"},{"i":704,"h":0.68737,"l":0.68718,"d":"dn"},{"i":705,"h":0.68712,"l":0.68673,"d":"dn"},{"i":706,"h":0.68704,"l":0.68665,"d":"up"},{"i":707,"h":0.68693,"l":0.68664,"d":"up"},{"i":708,"h":0.68704,"l":0.68678,"d":"dn"},{"i":709,"h":0.68701,"l":0.68678,"d":"up"},
{"i":710,"h":0.68714,"l":0.68691,"d":"up"},{"i":711,"h":0.68714,"l":0.68684,"d":"up"},{"i":712,"h":0.68721,"l":0.68699,"d":"up"},{"i":713,"h":0.68721,"l":0.68695,"d":"dn"},{"i":714,"h":0.68717,"l":0.68697,"d":"up"},{"i":715,"h":0.68712,"l":0.68691,"d":"dn"},{"i":716,"h":0.68710,"l":0.68688,"d":"dn"},{"i":717,"h":0.68691,"l":0.68668,"d":"dn"},{"i":718,"h":0.68691,"l":0.68673,"d":"up"},{"i":719,"h":0.68693,"l":0.68673,"d":"dn"},
{"i":720,"h":0.68682,"l":0.68667,"d":"dn"},{"i":721,"h":0.68677,"l":0.68656,"d":"dn"},{"i":722,"h":0.68669,"l":0.68650,"d":"dn"},{"i":723,"h":0.68680,"l":0.68660,"d":"up"},{"i":724,"h":0.68661,"l":0.68635,"d":"dn"},{"i":725,"h":0.68656,"l":0.68639,"d":"dn"},{"i":726,"h":0.68644,"l":0.68630,"d":"up"},{"i":727,"h":0.68644,"l":0.68614,"d":"dn"},{"i":728,"h":0.68635,"l":0.68609,"d":"dn"},{"i":729,"h":0.68648,"l":0.68631,"d":"up"},
{"i":730,"h":0.68666,"l":0.68650,"d":"up"},{"i":731,"h":0.68664,"l":0.68649,"d":"dn"},{"i":732,"h":0.68674,"l":0.68650,"d":"up"},{"i":733,"h":0.68671,"l":0.68652,"d":"dn"},{"i":734,"h":0.68669,"l":0.68647,"d":"up"},{"i":735,"h":0.68668,"l":0.68654,"d":"up"},{"i":736,"h":0.68671,"l":0.68657,"d":"dn"},{"i":737,"h":0.68673,"l":0.68656,"d":"up"},{"i":738,"h":0.68673,"l":0.68658,"d":"dn"},{"i":739,"h":0.68677,"l":0.68655,"d":"dn"},
{"i":740,"h":0.68660,"l":0.68638,"d":"dn"},{"i":741,"h":0.68639,"l":0.68626,"d":"dn"},{"i":742,"h":0.68629,"l":0.68609,"d":"dn"},{"i":743,"h":0.68623,"l":0.68612,"d":"up"},{"i":744,"h":0.68618,"l":0.68608,"d":"dn"},{"i":745,"h":0.68633,"l":0.68609,"d":"up"},{"i":746,"h":0.68633,"l":0.68624,"d":"dn"},{"i":747,"h":0.68639,"l":0.68614,"d":"up"},{"i":748,"h":0.68633,"l":0.68618,"d":"dn"},{"i":749,"h":0.68638,"l":0.68624,"d":"dn"},
{"i":750,"h":0.68633,"l":0.68612,"d":"up"},{"i":751,"h":0.68627,"l":0.68614,"d":"dn"},{"i":752,"h":0.68622,"l":0.68616,"d":"up"},{"i":753,"h":0.68620,"l":0.68606,"d":"dn"},{"i":754,"h":0.68616,"l":0.68602,"d":"up"},{"i":755,"h":0.68632,"l":0.68613,"d":"up"},{"i":756,"h":0.68631,"l":0.68609,"d":"dn"},{"i":757,"h":0.68615,"l":0.68604,"d":"dn"},{"i":758,"h":0.68620,"l":0.68602,"d":"up"},{"i":759,"h":0.68623,"l":0.68604,"d":"dn"},
{"i":760,"h":0.68607,"l":0.68588,"d":"dn"},{"i":761,"h":0.68602,"l":0.68587,"d":"up"},{"i":762,"h":0.68614,"l":0.68594,"d":"up"},{"i":763,"h":0.68613,"l":0.68601,"d":"dn"},{"i":764,"h":0.68631,"l":0.68610,"d":"up"},{"i":765,"h":0.68624,"l":0.68612,"d":"dn"},{"i":766,"h":0.68619,"l":0.68610,"d":"dn"},{"i":767,"h":0.68619,"l":0.68612,"d":"up"},{"i":768,"h":0.68626,"l":0.68613,"d":"dn"},{"i":769,"h":0.68624,"l":0.68614,"d":"dn"},
{"i":770,"h":0.68619,"l":0.68614,"d":"up"},{"i":771,"h":0.68623,"l":0.68616,"d":"up"},{"i":772,"h":0.68626,"l":0.68614,"d":"dn"},{"i":773,"h":0.68624,"l":0.68605,"d":"dn"},{"i":774,"h":0.68626,"l":0.68614,"d":"dn"},{"i":775,"h":0.68614,"l":0.68594,"d":"dn"},{"i":776,"h":0.68597,"l":0.68567,"d":"dn"},{"i":777,"h":0.68584,"l":0.68550,"d":"dn"},{"i":778,"h":0.68597,"l":0.68560,"d":"up"},{"i":779,"h":0.68633,"l":0.68592,"d":"up"},
{"i":780,"h":0.68653,"l":0.68623,"d":"up"},{"i":781,"h":0.68650,"l":0.68632,"d":"dn"},{"i":782,"h":0.68639,"l":0.68622,"d":"dn"},{"i":783,"h":0.68633,"l":0.68605,"d":"dn"},{"i":784,"h":0.68621,"l":0.68604,"d":"dn"}
],
"levels":[{"level":"upper","p":0.69147},{"level":"lower","p":0.68556}],
"zone":[{"p1":0.69049,"p2":0.69071}],
"trend":[{"line":"red","i":178,"p":0.69331},{"line":"red","i":784.5,"p":0.68734},{"line":"blue","i":-0.5,"p":0.68890},{"line":"blue","i":423.3,"p":0.693785}],
"crosses":[{"i":183,"p":0.69339},{"i":409.3,"p":0.69118}],
"arrows":[{"i":430.75,"p":0.69112}],
"notes":[{"i":416.4,"p":0.69169,"text":"17.1.20"}],
"price":[{"p":0.69147,"text":"0.69147"}]
},
"layer":[
{"data":{"name":"zone"},"mark":{"type":"rect","color":"#2F4F4F"},
 "encoding":{"y":{"field":"p2","type":"quantitative","title":null,"scale":{"domain":[0.685209,0.693785],"nice":false,"zero":false}},"y2":{"field":"p1"}}},
{"data":{"name":"bars"},"mark":{"type":"rule","strokeWidth":1},
 "encoding":{
  "x":{"field":"i","type":"quantitative","title":null,"scale":{"domain":[-0.5,784.5],"nice":false,"zero":false},
   "axis":{"orient":"bottom","values":[0,48,96,144,192,240,288,336,384,432,480,528,576,624,672,720,768],"labelExpr":"['16 Jan 2020','16 Jan 04:10','16 Jan 08:10','16 Jan 12:10','16 Jan 16:10','16 Jan 20:10','17 Jan 00:15','17 Jan 04:15','17 Jan 08:15','17 Jan 12:15','17 Jan 16:15','17 Jan 20:15','20 Jan 00:20','20 Jan 04:20','20 Jan 08:20','20 Jan 12:20','20 Jan 16:20'][round(datum.value/48)]","labelAlign":"left","labelBaseline":"top","labelOffset":-1,"labelPadding":4,"title":null}},
  "y":{"field":"h","type":"quantitative","title":null,"scale":{"domain":[0.685209,0.693785],"nice":false,"zero":false},
   "axis":{"orient":"right","values":[0.68545,0.6861,0.68675,0.6874,0.68805,0.6887,0.68935,0.69,0.69065,0.6913,0.69195,0.6926,0.69325],"format":".5f","labelAlign":"left","labelBaseline":"middle","labelOffset":2,"labelPadding":4,"title":null}},
  "y2":{"field":"l"},
  "color":{"field":"d","type":"nominal","scale":{"domain":["dn","up"],"range":["#FF0000","#9400D3"]},"legend":null}}},
{"data":{"name":"levels"},"transform":[{"filter":"datum.level=='upper'"}],"mark":{"type":"rule","color":"#FFA500","strokeWidth":3},
 "encoding":{"y":{"field":"p","type":"quantitative","title":null,"scale":{"domain":[0.685209,0.693785],"nice":false,"zero":false}}}},
{"data":{"name":"levels"},"transform":[{"filter":"datum.level=='lower'"}],"mark":{"type":"rule","color":"#FF8C00","strokeWidth":2},
 "encoding":{"y":{"field":"p","type":"quantitative","title":null,"scale":{"domain":[0.685209,0.693785],"nice":false,"zero":false}}}},
{"data":{"name":"trend"},"transform":[{"filter":"datum.line=='blue'"}],"mark":{"type":"line","strokeWidth":1,"color":"#0000FF"},
 "encoding":{"x":{"field":"i","type":"quantitative","title":null,"scale":{"domain":[-0.5,784.5],"nice":false,"zero":false}},
  "y":{"field":"p","type":"quantitative","title":null,"scale":{"domain":[0.685209,0.693785],"nice":false,"zero":false}}}},
{"data":{"name":"trend"},"transform":[{"filter":"datum.line=='red'"}],"mark":{"type":"line","strokeWidth":1,"color":"#FF0000"},
 "encoding":{"x":{"field":"i","type":"quantitative","title":null,"scale":{"domain":[-0.5,784.5],"nice":false,"zero":false}},
  "y":{"field":"p","type":"quantitative","title":null,"scale":{"domain":[0.685209,0.693785],"nice":false,"zero":false}}}},
{"data":{"name":"crosses"},"mark":{"type":"point","shape":"M-1,-0.62L-0.62,-1L0,-0.38L0.62,-1L1,-0.62L0.38,0L1,0.62L0.62,1L0,0.38L-0.62,1L-1,0.62L-0.38,0Z","filled":true,"color":"#FFFF00","size":225,"opacity":1},
 "encoding":{"x":{"field":"i","type":"quantitative","title":null,"scale":{"domain":[-0.5,784.5],"nice":false,"zero":false}},
  "y":{"field":"p","type":"quantitative","title":null,"scale":{"domain":[0.685209,0.693785],"nice":false,"zero":false}}}},
{"data":{"name":"arrows"},"mark":{"type":"point","shape":"M-0.48,-1L0.48,-1L0.48,0.1L0.82,0.1L0,1L-0.82,0.1L-0.48,0.1Z","filled":false,"stroke":"#FFFF00","strokeWidth":1.6,"size":484,"opacity":1},
 "encoding":{"x":{"field":"i","type":"quantitative","title":null,"scale":{"domain":[-0.5,784.5],"nice":false,"zero":false}},
  "y":{"field":"p","type":"quantitative","title":null,"scale":{"domain":[0.685209,0.693785],"nice":false,"zero":false}}}},
{"data":{"name":"notes"},"mark":{"type":"text","color":"#FFFF00","font":"Liberation Sans","fontSize":28,"align":"center","baseline":"alphabetic"},
 "encoding":{"x":{"field":"i","type":"quantitative","title":null,"scale":{"domain":[-0.5,784.5],"nice":false,"zero":false}},
  "y":{"field":"p","type":"quantitative","title":null,"scale":{"domain":[0.685209,0.693785],"nice":false,"zero":false}},
  "text":{"field":"text"}}},
{"data":{"name":"price"},"mark":{"type":"rect","color":"#FFA500"},
 "encoding":{"x":{"datum":785.25,"type":"quantitative","title":null,"scale":{"domain":[-0.5,784.5],"nice":false,"zero":false}},"x2":{"datum":813.25},
  "y":{"datum":0.69153,"type":"quantitative","title":null,"scale":{"domain":[0.685209,0.693785],"nice":false,"zero":false}},"y2":{"datum":0.69135}}},
{"data":{"name":"price"},"mark":{"type":"text","color":"#000000","font":"Liberation Sans","fontSize":12.5,"align":"left","baseline":"middle","dy":1},
 "encoding":{"x":{"datum":787.9,"type":"quantitative","title":null,"scale":{"domain":[-0.5,784.5],"nice":false,"zero":false}},
  "y":{"field":"p","type":"quantitative","title":null,"scale":{"domain":[0.685209,0.693785],"nice":false,"zero":false}},
  "text":{"field":"text"}}}
]
}
